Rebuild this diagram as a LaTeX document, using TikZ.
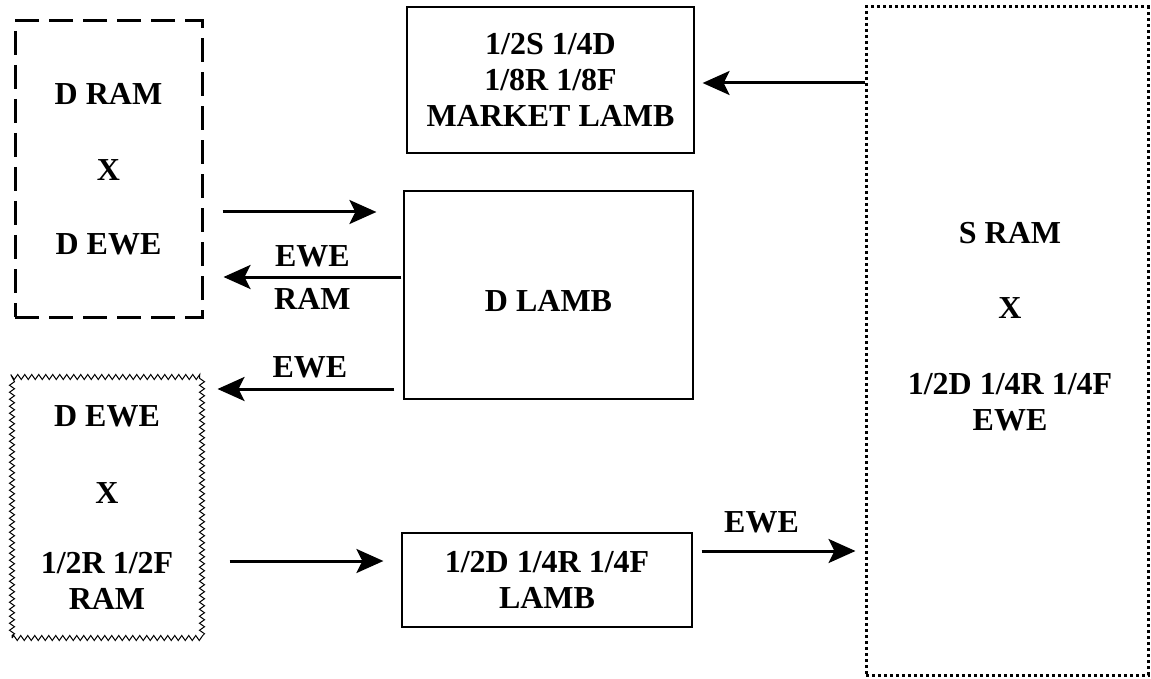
\documentclass[tikz,border=0pt]{standalone}
\usepackage{fontspec}
\setmainfont{Liberation Serif}
\usetikzlibrary{arrows.meta,decorations.pathmorphing}
\tikzset{txt/.style={font=\bfseries\fontsize{32}{36}\selectfont, align=center}}
\tikzset{plainbox/.style={draw, line width=1.2pt, txt}}
\tikzset{dashbox/.style={draw, line width=3pt, dash pattern=on 24pt off 10pt, txt}}
\tikzset{dotbox/.style={draw, line width=3pt, dash pattern=on 3pt off 3pt, txt}}
\tikzset{wigglebox/.style={draw, line width=1pt, decorate,
    decoration={zigzag, amplitude=2.5pt, segment length=7pt}, txt}}
\tikzset{arr/.style={line width=3pt, -{Stealth[length=27pt, width=24pt, inset=6pt]}}}
\tikzset{lbl/.style={txt, inner sep=1pt}}

\begin{document}
\begin{tikzpicture}[x=1pt, y=-1pt]
        \useasboundingbox (0, 0) rectangle (1151, 679);

        \node[dashbox, minimum width=187pt, minimum height=296pt] (dram) at (108.5, 169)
        {D RAM\\[40pt]X\\[38pt]D EWE};
        \node[wigglebox, minimum width=190pt, minimum height=261pt] (dewe) at (107, 507.5)
        {D EWE\\[41pt]X\\[34pt]1/2R 1/2F\\RAM};
        \node[plainbox, minimum width=287pt, minimum height=146pt] (mlamb) at (550.5, 80)
        {1/2S 1/4D\\1/8R 1/8F\\MARKET LAMB};
        \node[plainbox, minimum width=289pt, minimum height=208pt] (dlamb) at (548.5, 295) {};
        \node[txt] (dlambtxt) at ([yshift=-6pt]dlamb.center) {D LAMB};
        \node[plainbox, minimum width=290pt, minimum height=94pt] (xlamb) at (547, 580)
        {1/2D 1/4R 1/4F\\LAMB};
        \node[dotbox, minimum width=282pt, minimum height=668pt] (sram) at (1007, 341) {};
        \node[txt] (sramtxt) at ([xshift=3pt, yshift=14pt]sram.center)
        {S RAM\\[39pt]X\\[40pt]1/2D 1/4R 1/4F\\EWE};

        \draw [arr] (sram.west |- 0, 83) -- ([xshift=8pt]mlamb.east |- 0, 83);
        \draw [arr] ([xshift=19pt]dram.east |- 0, 212) -- ([xshift=-27pt]dlamb.west |- 0, 212);
        \draw [arr] ([xshift=-2pt]dlamb.west |- 0, 277) -- ([xshift=20pt]dram.east |- 0, 277)
              node[lbl, midway, above=7.5pt] {EWE}
              node[lbl, midway, below=8.5pt] {RAM};
        \draw [arr] ([xshift=-9pt]dlamb.west |- 0, 389) -- ([xshift=15pt]dewe.east |- 0, 389)
              node[lbl, midway, above=8.5pt, xshift=4pt] {EWE};
        \draw [arr] ([xshift=27pt]dewe.east |- 0, 561) -- ([xshift=-18pt]xlamb.west |- 0, 561);
        \draw [arr] ([xshift=9pt]xlamb.east |- 0, 551) -- ([xshift=-9pt]sram.west |- 0, 551)
              node[lbl, midway, above=15.5pt, xshift=-17pt] {EWE};

   \end{tikzpicture}
\end{document}
